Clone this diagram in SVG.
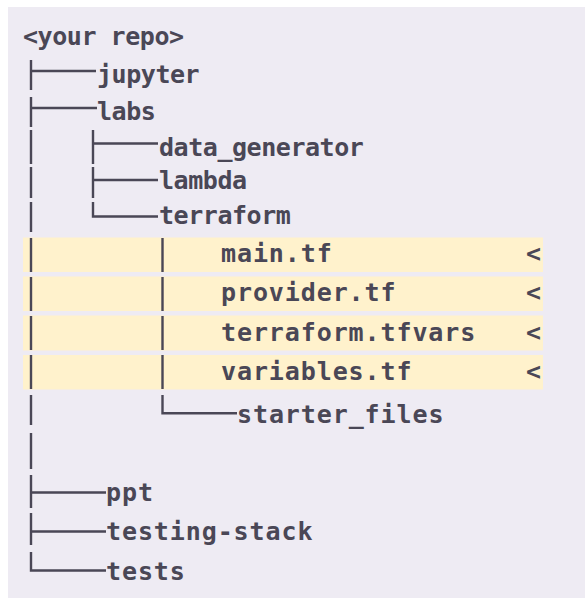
<svg xmlns="http://www.w3.org/2000/svg" width="585" height="598" viewBox="0 0 585 598">
<style>
.t{font-family:"DejaVu Sans Mono","Liberation Mono",monospace;font-size:25px;font-weight:bold;letter-spacing:0.9px;fill:#4a4756}
.t.n{letter-spacing:-0.45px}
.c path{stroke:#4a4756;stroke-width:2.4;fill:none}
.hl{fill:#fff2cc}
</style>
<rect x="8" y="7" width="577" height="591" fill="#eeebf3"/>
<g id="highlights">
<rect class="hl" x="23" y="237.5" width="520" height="34.5"/>
<rect class="hl" x="23" y="276.5" width="520" height="34.5"/>
<rect class="hl" x="23" y="315.5" width="520" height="35"/>
<rect class="hl" x="23" y="355" width="520" height="34.5"/>
</g>
<g id="connectors" class="c">
<path d="M31 60V90M31 71H96"/>
<path d="M31 97V127M31 108H97"/>
<path d="M31 130V164M31 167V198M31 202V232M31 238V272M31 277V311M31 316V350M31 355V389M31 395V425M31 433V469"/>
<path d="M31 475V508M31 492.5H106"/>
<path d="M31 513V545M31 531.5H106"/>
<path d="M31 552V570.5H106"/>
<path d="M93 130V164M93 143.5H158"/>
<path d="M93 167V198M93 180H158"/>
<path d="M93 202V216.5H158"/>
<path d="M162.5 238V272M162.5 277V311M162.5 316V350M162.5 355V389"/>
<path d="M162.5 395V413.3H237"/>
</g>
<g id="root"><text class="t n" x="23" y="44.5">&lt;your repo&gt;</text></g>
<g id="jupyter"><text class="t n" x="97" y="83">jupyter</text></g>
<g id="labs"><text class="t n" x="97" y="119.5">labs</text></g>
<g id="data_generator"><text class="t n" x="159" y="155.5">data_generator</text></g>
<g id="lambda"><text class="t n" x="159" y="188.5">lambda</text></g>
<g id="terraform"><text class="t n" x="159" y="224">terraform</text></g>
<g id="main_tf"><text class="t" x="221" y="261.5">main.tf</text><text class="t" x="526" y="261.5">&lt;</text></g>
<g id="provider_tf"><text class="t" x="221" y="301">provider.tf</text><text class="t" x="526" y="301">&lt;</text></g>
<g id="terraform_tfvars"><text class="t" x="221" y="341">terraform.tfvars</text><text class="t" x="526" y="341">&lt;</text></g>
<g id="variables_tf"><text class="t" x="221" y="380">variables.tf</text><text class="t" x="526" y="380">&lt;</text></g>
<g id="starter_files"><text class="t" x="237" y="422.5">starter_files</text></g>
<g id="ppt"><text class="t" x="106" y="501">ppt</text></g>
<g id="testing_stack"><text class="t" x="106" y="540">testing-stack</text></g>
<g id="tests"><text class="t" x="106" y="580">tests</text></g>
</svg>
